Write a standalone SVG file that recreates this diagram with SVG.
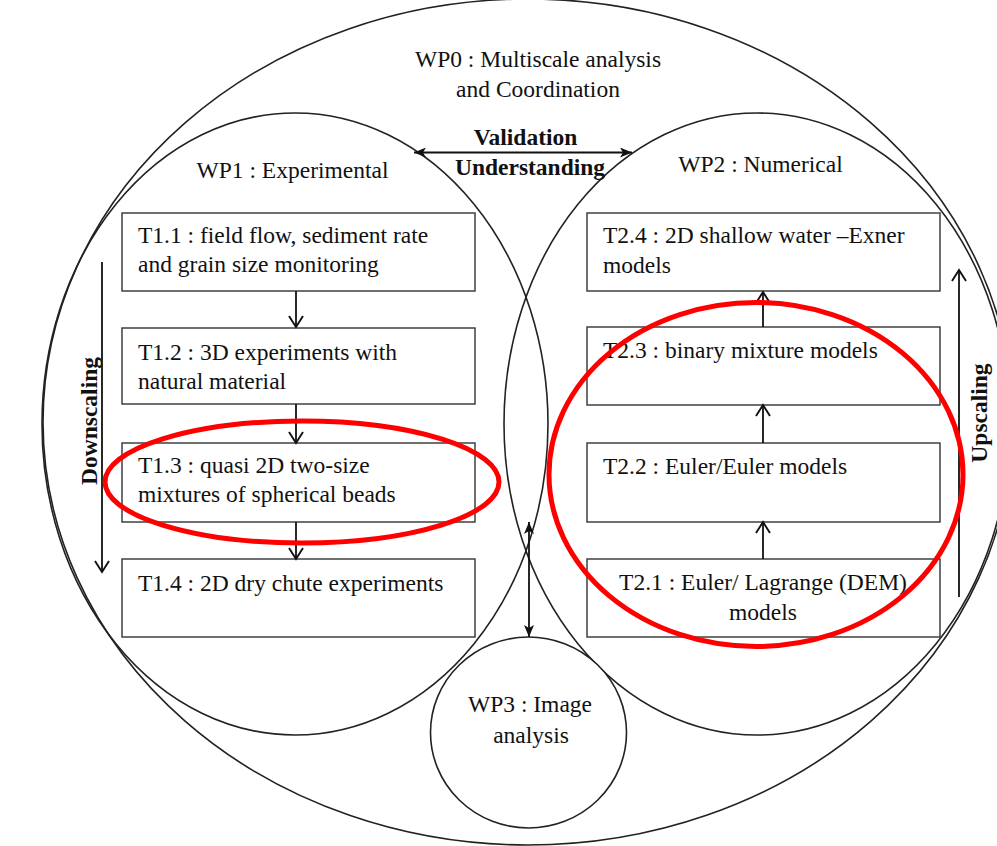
<svg xmlns="http://www.w3.org/2000/svg" width="997" height="846" viewBox="0 0 997 846">
<defs>
<style>
.wp{fill:none;stroke:#222;stroke-width:1.6}
.box{fill:#fff;stroke:#333;stroke-width:1.4}
.t{font-family:"Liberation Serif","Times New Roman",serif;font-size:23.5px;fill:#111}
.b{font-weight:bold}
.m{text-anchor:middle}
.ln{stroke:#111;stroke-width:1.8;fill:none}
.red{fill:none;stroke:#f00;stroke-width:5}
</style>
<marker id="chev" viewBox="0 0 14 16" refX="12" refY="8" markerWidth="14" markerHeight="16" markerUnits="userSpaceOnUse" orient="auto-start-reverse">
<path d="M1,1 L12,8 L1,15" fill="none" stroke="#111" stroke-width="1.9"/>
</marker>
<marker id="head" viewBox="0 0 13 10" refX="12" refY="5" markerWidth="13" markerHeight="10" markerUnits="userSpaceOnUse" orient="auto-start-reverse">
<path d="M0,0 L12,5 L0,10 L3,5 z" fill="#111"/>
</marker>
</defs>
<rect width="997" height="846" fill="#fff"/>

<g id="wp0">
<ellipse class="wp" cx="528" cy="422" rx="485" ry="423"/>
<text class="t m" x="538" y="67">WP0 : Multiscale analysis</text>
<text class="t m" x="538" y="97">and Coordination</text>
</g>
<g id="wp1">
<ellipse class="wp" cx="295" cy="424" rx="253" ry="311"/>
<text class="t m" x="292.5" y="178">WP1 : Experimental</text>
</g>
<g id="wp2">
<ellipse class="wp" cx="757" cy="424" rx="253" ry="311"/>
<text class="t m" x="760.5" y="172">WP2 : Numerical</text>
</g>
<g id="wp3">
<ellipse class="wp" cx="528.5" cy="732.5" rx="98" ry="95.5" style="fill:#fff"/>
<text class="t m" x="530" y="712">WP3 : Image</text>
<text class="t m" x="531" y="743">analysis</text>
</g>

<g id="t11"><rect class="box" x="122" y="213" width="353" height="78"/>
<text class="t" x="138" y="243">T1.1 : field flow, sediment rate</text>
<text class="t" x="138" y="272">and grain size monitoring</text></g>
<g id="t12"><rect class="box" x="122" y="328" width="353" height="76"/>
<text class="t" x="138" y="360">T1.2 : 3D experiments with</text>
<text class="t" x="138" y="389">natural material</text></g>
<g id="t13"><rect class="box" x="122" y="443" width="353" height="79"/>
<text class="t" x="138" y="473">T1.3 : quasi 2D two-size</text>
<text class="t" x="138" y="502">mixtures of spherical beads</text></g>
<g id="t14"><rect class="box" x="122" y="559" width="353" height="78"/>
<text class="t" x="138" y="591">T1.4 : 2D dry chute experiments</text></g>

<g id="t24"><rect class="box" x="587" y="213" width="353" height="78"/>
<text class="t" x="603" y="243">T2.4 : 2D shallow water –Exner</text>
<text class="t" x="603" y="273">models</text></g>
<g id="t23"><rect class="box" x="587" y="327" width="353" height="78"/>
<text class="t" x="603" y="358">T2.3 : binary mixture models</text></g>
<g id="t22"><rect class="box" x="587" y="443" width="353" height="79"/>
<text class="t" x="603" y="474">T2.2 : Euler/Euler models</text></g>
<g id="t21"><rect class="box" x="587" y="559" width="353" height="78"/>
<text class="t m" x="763" y="590">T2.1 : Euler/ Lagrange (DEM)</text>
<text class="t m" x="763" y="620">models</text></g>

<g id="connectors">
<line class="ln" x1="296" y1="291" x2="296" y2="327" marker-end="url(#chev)"/>
<line class="ln" x1="296" y1="404" x2="296" y2="443" marker-end="url(#chev)"/>
<line class="ln" x1="296" y1="522" x2="296" y2="559" marker-end="url(#chev)"/>
<line class="ln" x1="763" y1="559" x2="763" y2="522" marker-end="url(#chev)"/>
<line class="ln" x1="763" y1="443" x2="763" y2="405" marker-end="url(#chev)"/>
<line class="ln" x1="763" y1="327" x2="763" y2="292" marker-end="url(#chev)"/>
<line class="ln" x1="102" y1="262" x2="102" y2="572" marker-end="url(#chev)"/>
<line class="ln" x1="959" y1="597" x2="959" y2="270" marker-end="url(#chev)"/>
<line class="ln" x1="414" y1="152.5" x2="632" y2="152.5" marker-start="url(#head)" marker-end="url(#head)"/>
<line class="ln" x1="529" y1="522" x2="529" y2="637" marker-start="url(#head)" marker-end="url(#head)"/>
</g>

<g id="labels">
<text class="t b m" x="525.5" y="145">Validation</text>
<text class="t b m" x="530" y="175">Understanding</text>
<text class="t b m" transform="translate(97,421) rotate(-90)">Downscaling</text>
<text class="t b m" transform="translate(987,413) rotate(-90)">Upscaling</text>
</g>

<g id="highlights">
<ellipse class="red" cx="302" cy="482" rx="197" ry="61"/>
<ellipse class="red" cx="756" cy="474.5" rx="207" ry="172"/>
</g>
</svg>
